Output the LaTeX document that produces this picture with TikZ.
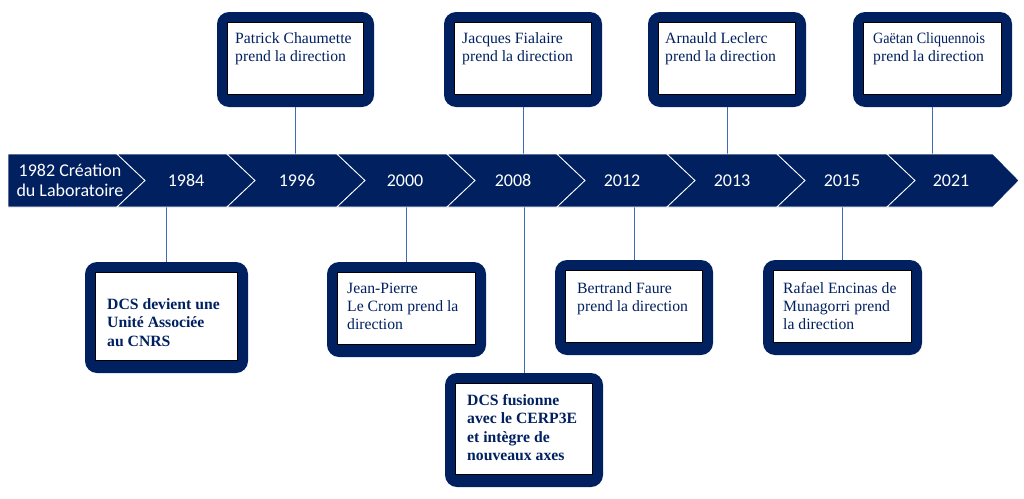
\documentclass[tikz,border=0pt]{standalone}
\usepackage{fontspec}
\setmainfont{Liberation Serif}
\newfontfamily\yearfont{Carlito}
\newfontfamily\narrowserif[FakeStretch=0.9]{Liberation Serif}
\usetikzlibrary{fit}
\definecolor{navy}{HTML}{002060}
\definecolor{connblue}{HTML}{3A6DB5}
\tikzset{
  seg/.style={fill=navy, draw=white, line width=0.8pt, line join=miter},
  obox/.style={fill=navy, rounded corners=12pt, inner sep=0pt, draw=none},
  ibox/.style={fill=white, draw=black, line width=0.8pt},
  conn/.style={draw=connblue, line width=0.9pt},
  yearlbl/.style={text=white, font=\yearfont\fontsize{18}{20}\selectfont, inner sep=0pt, align=center},
  boxtxt/.style={text=navy, font=\fontsize{15.7}{18.2}\selectfont, inner sep=0pt, anchor=north west, align=left},
  boxbold/.style={text=navy, font=\bfseries\fontsize{15.7}{18.5}\selectfont, inner sep=0pt, anchor=north west, align=left}
}
\begin{document}
\begin{tikzpicture}[x=1pt,y=-1pt]
\useasboundingbox (0,0) rectangle (1024,498);
\coordinate (btop) at (0,154);
\coordinate (bbot) at (0,207);

% boxes (outer)
\node[obox, fit={(217,12) (374,107)}] (pc) {};
\node[obox, fit={(444,12) (602,107)}] (jf) {};
\node[obox, fit={(648,12) (806,107)}] (al) {};
\node[obox, fit={(853,12) (1012,107)}] (gc) {};
\node[obox, fit={(85,262) (248,373)}] (ua) {};
\node[obox, fit={(327,262) (486,357)}] (jp) {};
\node[obox, fit={(555,260) (713,355)}] (bf) {};
\node[obox, fit={(763,260) (922,355)}] (re) {};
\node[obox, fit={(445,373) (603,487)}] (df) {};

% inner white panels
\foreach \b in {pc,jf,al,gc,ua,jp,bf,re,df}{
  \draw[ibox] ([xshift=10.5pt,yshift=-11pt]\b.north west) rectangle ([xshift=-10.5pt,yshift=12.5pt]\b.south east);
}

% connectors
\draw[conn] (pc.south) -- (pc.south |- btop);
\draw[conn] (jf.south) -- (jf.south |- btop);
\draw[conn] (al.south) -- (al.south |- btop);
\draw[conn] (gc.south) -- (gc.south |- btop);
\draw[conn] (ua.north) -- (ua.north |- bbot);
\draw[conn] (jp.north) -- (jp.north |- bbot);
\draw[conn] (bf.north) -- (bf.north |- bbot);
\draw[conn] (re.north) -- (re.north |- bbot);
\draw[conn] (df.north) -- (df.north |- bbot);

% chevron band
\filldraw[seg] (8,154) -- (117,154) -- (145,180.5) -- (117,207) -- (8,207) -- cycle;
\foreach \a in {117,227,337,447,557,667,777}{
  \filldraw[seg] (\a,154) -- ++(110,0) -- ++(28,26.5) -- ++(-28,26.5) -- ++(-110,0) -- ++(28,-26.5) -- cycle;
}
\filldraw[seg] (887,154) -- (993,154) -- (1019,180.5) -- (993,207) -- (887,207) -- (915,180.5) -- cycle;

% year labels
\node[yearlbl] (y1982) at (70,180) {1982 Création\\du Laboratoire};
\node[yearlbl] (y1984) at (186,180.5) {1984};
\node[yearlbl] (y1996) at (297,180.5) {1996};
\node[yearlbl] (y2000) at (405,180.5) {2000};
\node[yearlbl] (y2008) at (513,180.5) {2008};
\node[yearlbl] (y2012) at (622,180.5) {2012};
\node[yearlbl] (y2013) at (732,180.5) {2013};
\node[yearlbl] (y2015) at (842,180.5) {2015};
\node[yearlbl] (y2021) at (951,180.5) {2021};

% box texts
\node[boxtxt] (tpc) at (235,30.3) {\strut Patrick Chaumette\\prend la direction};
\node[boxtxt] (tjf) at (462,30.3) {\strut Jacques Fialaire\\prend la direction};
\node[boxtxt] (tal) at (665,30.3) {\strut Arnauld Leclerc\\prend la direction};
\node[boxtxt] (tgc) at (873,30.3) {\strut{\narrowserif Gaëtan Cliquennois}\\prend la direction};
\node[boxbold] (tua) at (107,296) {\strut DCS devient une\\Unité Associée\\au CNRS};
\node[boxtxt] (tjp) at (347,280.3) {\strut Jean-Pierre\\Le Crom prend la\\direction};
\node[boxtxt] (tbf) at (577,280.3) {\strut Bertrand Faure\\prend la direction};
\node[boxtxt] (tre) at (783,280.3) {\strut Rafael Encinas de\\Munagorri prend\\la direction};
\node[boxbold] (tdf) at (467,392) {\strut DCS fusionne\\avec le CERP3E\\et intègre de\\nouveaux axes};
\end{tikzpicture}
\end{document}
